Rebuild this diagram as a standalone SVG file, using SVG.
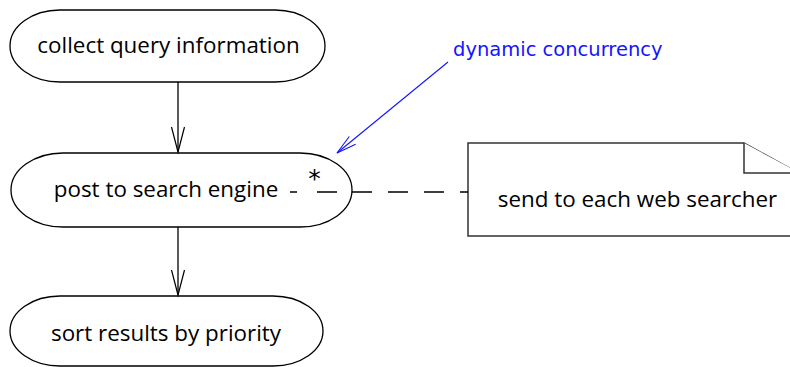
<svg xmlns="http://www.w3.org/2000/svg" width="790" height="367" viewBox="0 0 790 367">
<style>
.node{fill:#fff;stroke:#000;stroke-width:1.3}
.lbl{font-family:"Open Sans","Liberation Sans",sans-serif;font-size:22.4px;fill:#000;text-anchor:middle}
.edge{fill:none;stroke:#000;stroke-width:1.3}
.note{fill:#fff;stroke:#333;stroke-width:1.5}
.blue{font-family:"DejaVu Sans","Liberation Sans",sans-serif;font-size:19.5px;fill:#1414ff}
</style>
<defs>
<marker id="open" markerUnits="userSpaceOnUse" viewBox="-27 -8 29 16" refX="0" refY="0" markerWidth="29" markerHeight="16" orient="auto" overflow="visible">
<path d="M-25,-6.5 L0,0 L-25,6.5" fill="none" stroke="#000" stroke-width="1.2"/>
</marker>
<marker id="openBlue" markerUnits="userSpaceOnUse" viewBox="-22 -7 24 14" refX="0" refY="0" markerWidth="24" markerHeight="14" orient="auto" overflow="visible">
<path d="M-20,-5 L0,0 L-20,5" fill="none" stroke="#1414ff" stroke-width="1.1"/>
</marker>
</defs>
<g id="node-collect">
<path class="node" d="M60,10 H275 A50,36 0 0 1 275,82 H60 A50,36 0 0 1 60,10 Z"/>
<text class="lbl" x="168.5" y="53">collect query information</text>
</g>
<g id="node-post">
<path class="node" d="M63,153 H300 A52,37 0 0 1 300,227 H63 A52,37 0 0 1 63,153 Z"/>
<text class="lbl" x="166" y="197">post to search engine</text>
<text x="314.5" y="187" font-family="DejaVu Sans,sans-serif" font-size="25" fill="#000" text-anchor="middle">*</text>
</g>
<g id="node-sort">
<path class="node" d="M60,296 H273 A50,35 0 0 1 273,366 H60 A50,35 0 0 1 60,296 Z"/>
<text class="lbl" x="166" y="341">sort results by priority</text>
</g>
<g id="note">
<path class="note" d="M468,143 H744 L800,174 V236 H468 Z"/>
<path class="note" d="M744,143 V173 H800" fill="none"/>
<text class="lbl" x="637.5" y="207">send to each web searcher</text>
</g>
<g id="annotation">
<text class="blue" x="453" y="56">dynamic concurrency</text>
</g>
<g id="connectors">
<line class="edge" x1="178" y1="82" x2="178" y2="152" marker-end="url(#open)"/>
<line class="edge" x1="178" y1="227" x2="178" y2="295" marker-end="url(#open)"/>
<path class="edge" d="M290,192 H297 M317,192 H337 M352,192 H372 M388,192 H408 M424,192 H444 M460,192 H468"/>
<line x1="448" y1="62" x2="337" y2="153" stroke="#1414ff" stroke-width="1.1" marker-end="url(#openBlue)"/>
</g>
</svg>
